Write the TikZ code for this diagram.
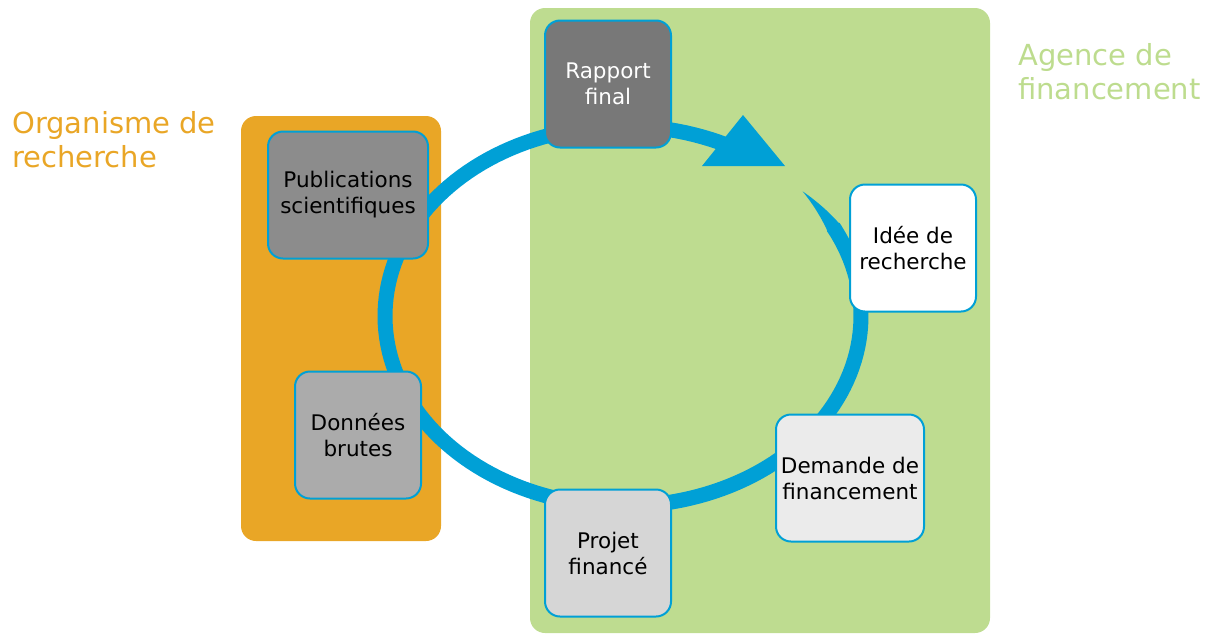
\documentclass[tikz,border=0pt]{standalone}
\usepackage{fontspec}
\setmainfont{DejaVu Sans}
\usepackage{tikz}
\definecolor{ringblue}{HTML}{00A0D6}
\definecolor{zonegreen}{HTML}{BEDC90}
\definecolor{zoneorange}{HTML}{E9A626}
\definecolor{labelgreen}{HTML}{BDDC8E}
\tikzset{
	etape/.style={draw=ringblue, line width=2pt, rounded corners=15pt, minimum width=126pt, minimum height=127pt, align=center, inner sep=2pt, font=\fontsize{21.5}{26}\selectfont},
	zone/.style={rounded corners=15pt},
	ring/.style={ringblue, line width=15pt},
	grand/.style={align=left, inner sep=0pt, anchor=north west, font=\fontsize{29}{34}\selectfont}
}
\newcommand{\etape}[5]{
	\node[etape, #4] (etape_#1) at (#2,#3) {#5};
}

\begin{document}
\begin{tikzpicture}[x=1pt,y=-1pt]
		\useasboundingbox (0,0) rectangle (1209,635);
		% zones
		\fill[zone, zonegreen] (530,8) rectangle (990,633);
		\fill[zone, zoneorange] (241,116) rectangle (441,541);
		\node[grand, text=zoneorange] (org_label) at (12,111) {Organisme de\\recherche};
		\node[grand, text=labelgreen] (agence_label) at (1018,43) {Agence de\\financement};
		
		% cycle
		\draw[ring] plot[domain=58:388, samples=160] ({623+238*cos(\x)},{316-190*sin(\x)});
		\fill[ringblue] plot[domain=27:41, samples=20] ({623+(238+7.5*(41-\x)/14)*cos(\x)},{316-(190+7.5*(41-\x)/14)*sin(\x)})
			-- plot[domain=41:27, samples=20] ({623+(238-7.5*(41-\x)/14)*cos(\x)},{316-(190-7.5*(41-\x)/14)*sin(\x)}) -- cycle;
		\fill[ringblue] (743,115) -- (702,166) -- (785,166) -- cycle;
		
		\etape{rapport}{608}{84}{fill=black!53, text=white}{Rapport\\final};
		\etape{pub}{348}{195}{fill=black!45, minimum width=160pt}{Publications\\scientifiques};
		\etape{donnees}{358}{435}{fill=black!33}{Données\\brutes};
		\etape{projet}{608}{553}{fill=black!16}{Projet\\financé};
		\etape{demande}{850}{478}{fill=black!8, minimum width=148pt}{Demande de\\financement};
		\etape{idee}{913}{248}{fill=white}{Idée de\\recherche};
\end{tikzpicture}
\end{document}
